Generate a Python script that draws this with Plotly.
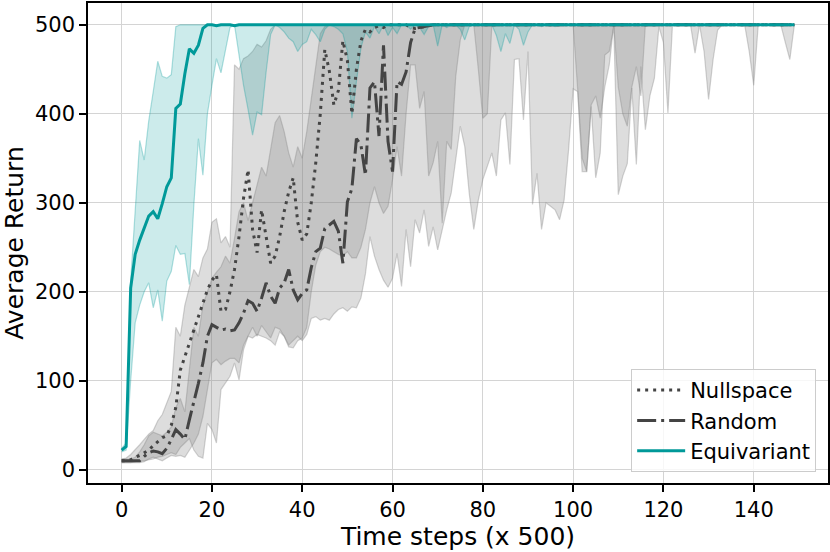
import plotly.graph_objects as go

# time axis (x 500 steps)
steps = list(range(150))

# Equivariant
eq_mean = [
    22, 26, 204, 242, 258, 272, 285, 290, 282, 299,
    318, 328, 406, 411, 445, 473, 468, 477, 496, 500,
    500, 499, 500, 500, 500, 499, 500, 500, 500, 500,
] + [500] * 120
eq_upper = [24, 30, 212, 292, 370, 348, 392, 425, 459, 442, 440, 444, 498] + [500] * 137
eq_lower = [
    20, 22, 100, 165, 185, 200, 210, 182, 202, 167,
    212, 223, 252, 242, 243, 208, 298, 372, 331, 400,
    432, 462, 446, 470, 497, 500, 463, 432, 405, 376,
    402, 399, 447, 489, 500, 497, 492, 485, 481, 470,
    478, 481, 495, 489, 481, 495, 500, 498, 495, 490,
    470, 395, 436, 474, 492, 485, 498, 490, 500, 488,
    497, 490, 500, 500, 495, 500, 497, 489, 498, 500,
    476, 500, 497, 500, 500, 495, 483, 498, 500, 500,
    500, 500, 500, 488, 470, 490, 479, 500, 495, 477,
    492, 500, 500, 498, 500, 500, 498, 500, 500, 500,
] + [500] * 50

# Nullspace
null_mean = [
    10, 10, 11, 14, 16, 19, 22, 27, 32, 36,
    38, 50, 70, 112, 127, 142, 157, 172, 187, 202,
    213, 219, 178, 180, 200, 225, 262, 305, 337, 270,
    244, 292, 262, 232, 240, 262, 290, 312, 328, 278,
    258, 265, 300, 345, 400, 472, 448, 410, 426, 482,
    460, 400, 450, 482, 495, 492, 497, 499, 497, 500,
    500, 500, 500, 500, 497, 496, 497, 498, 499, 500,
] + [500] * 80
null_upper = [
    12, 13, 17, 22, 28, 34, 40, 44, 55, 62,
    75, 88, 160, 150, 185, 205, 225, 217, 238, 248,
    278, 282, 255, 262, 250, 455, 450, 462, 465, 470,
    478, 475, 482, 495,
] + [500] * 116
null_lower = [
    8, 8, 8, 9, 10, 10, 11, 12, 14, 15,
    17, 19, 17, 25, 30, 35, 22, 15, 13, 52,
    45, 30, 90, 97, 105, 120, 101, 135, 150, 148,
    152, 150, 148, 145, 140, 155, 150, 138, 137, 145,
    148, 160, 200, 230, 245, 250, 248, 245, 242, 240,
    245, 238, 238, 250, 270, 300, 318, 300, 288, 296,
    326, 363, 330, 400, 455, 455, 406, 425, 330, 345,
    369, 277, 369, 360, 442, 483, 500, 500, 500, 450,
    395, 400, 500, 500, 500, 500, 500, 500, 500, 500,
    500, 500, 500, 500, 500, 500, 500, 500, 500, 500,
    500, 428, 350, 335, 410, 420, 395, 430, 455, 500,
    430, 400, 386, 430, 453, 420, 500, 500, 500, 500,
] + [500] * 30

# Random
rand_mean = [
    10, 10, 10, 10, 10, 15, 19, 21, 20, 18,
    24, 34, 45, 40, 34, 56, 75, 97, 120, 150,
    163, 160, 157, 158, 156, 157, 165, 176, 190, 187,
    178, 193, 210, 195, 187, 204, 210, 225, 202, 191,
    198, 202, 227, 245, 249, 271, 275, 279, 268, 232,
    301, 316, 372, 365, 331, 429, 436, 375, 477, 369,
    335, 436, 433, 447, 480, 496, 497, 498, 499, 500,
] + [500] * 80
rand_upper = [
    12, 12, 12, 14, 20, 28, 38, 42, 40, 38,
    42, 48, 70, 80, 65, 110, 160, 150, 185, 200,
    215, 222, 228, 240, 232, 260, 290, 300, 280, 300,
    320, 340, 330, 360, 390, 398, 380, 356, 340, 363,
    350, 380, 418, 452, 490, 498,
] + [500] * 104
rand_lower = [
    8, 8, 8, 8, 8, 9, 12, 14, 12, 10,
    13, 16, 15, 16, 14, 22, 30, 40, 60, 90,
    120, 124, 118, 122, 125, 125, 120, 140, 150, 160,
    150, 162, 155, 148, 160, 158, 150, 140, 145, 150,
    145, 152, 170, 172, 168, 170, 168, 175, 180, 182,
    178, 183, 182, 193, 220, 262, 240, 225, 213, 205,
    215, 243, 206, 270, 228, 281, 266, 292, 251, 273,
    247, 270, 292, 311, 350, 386, 363, 310, 270, 303,
    326, 340, 356, 330, 393, 401, 343, 461, 462, 393,
    470, 298, 333, 270, 300, 296, 292, 281, 303, 360,
    428, 425, 335, 335, 408, 328, 356, 466, 470, 498,
    309, 330, 344, 429, 343, 453, 382, 420, 440, 498,
    480, 401, 500, 500, 500, 500, 500, 468, 500, 470,
    416, 461, 494, 500, 500, 500, 500, 500, 500, 470,
    432, 500, 500, 500, 500, 500, 500, 480, 461, 500,
]

for arr in (eq_mean, eq_upper, eq_lower, null_mean, null_upper, null_lower,
            rand_mean, rand_upper, rand_lower):
    assert len(arr) == len(steps), len(arr)

GRAY_FILL = "rgba(128,128,128,0.27)"
GRAY_EDGE = "rgba(128,128,128,0.35)"
TEAL = "#009999"
TEAL_FILL = "rgba(0,153,153,0.2)"
TEAL_EDGE = "rgba(0,153,153,0.3)"
DARK = "#444444"


def add_band(fig, lower, upper, fill, edge):
    fig.add_trace(go.Scatter(x=steps, y=lower, mode="lines",
                             line=dict(color=edge, width=1.2),
                             showlegend=False, hoverinfo="skip"))
    fig.add_trace(go.Scatter(x=steps, y=upper, mode="lines",
                             line=dict(color=edge, width=1.2),
                             fill="tonexty", fillcolor=fill,
                             showlegend=False, hoverinfo="skip"))


fig = go.Figure()
add_band(fig, null_lower, null_upper, GRAY_FILL, GRAY_EDGE)
add_band(fig, rand_lower, rand_upper, GRAY_FILL, GRAY_EDGE)
add_band(fig, eq_lower, eq_upper, TEAL_FILL, TEAL_EDGE)

fig.add_trace(go.Scatter(x=steps, y=null_mean, mode="lines", name="Nullspace",
                         line=dict(color=DARK, width=3, dash="3px,5px")))
fig.add_trace(go.Scatter(x=steps, y=rand_mean, mode="lines", name="Random",
                         line=dict(color=DARK, width=3, dash="19px,5px,3px,5px")))
fig.add_trace(go.Scatter(x=steps, y=eq_mean, mode="lines", name="Equivariant",
                         line=dict(color=TEAL, width=3)))

axis_style = dict(
    showgrid=True, gridcolor="#d4d4d4", gridwidth=1,
    showline=True, linecolor="black", linewidth=1.5, mirror=True,
    ticks="outside", ticklen=7, tickwidth=1.5, tickcolor="black",
    zeroline=False, automargin=False,
)

fig.update_layout(
    width=830, height=552,
    margin=dict(l=88, r=2, t=3, b=69),
    plot_bgcolor="white", paper_bgcolor="white",
    font=dict(family="DejaVu Sans", size=21, color="black"),
    xaxis=dict(range=[-7.45, 156.45], tickvals=[0, 20, 40, 60, 80, 100, 120, 140],
               title=dict(text="Time steps (x 500)", standoff=4), **axis_style),
    yaxis=dict(range=[-15, 524.5], tickvals=[0, 100, 200, 300, 400, 500],
               title=dict(text="Average Return", standoff=8), **axis_style),
    legend=dict(x=0.984, y=0.023, xanchor="right", yanchor="bottom",
                traceorder="normal", itemwidth=48,
                bgcolor="rgba(255,255,255,0.8)", bordercolor="#cccccc",
                borderwidth=1, font=dict(size=21)),
)

# the page's default body margin would shift the figure
fig.write_html("out.html", config={"displayModeBar": False},
               post_script="document.body.style.margin='0px';")
